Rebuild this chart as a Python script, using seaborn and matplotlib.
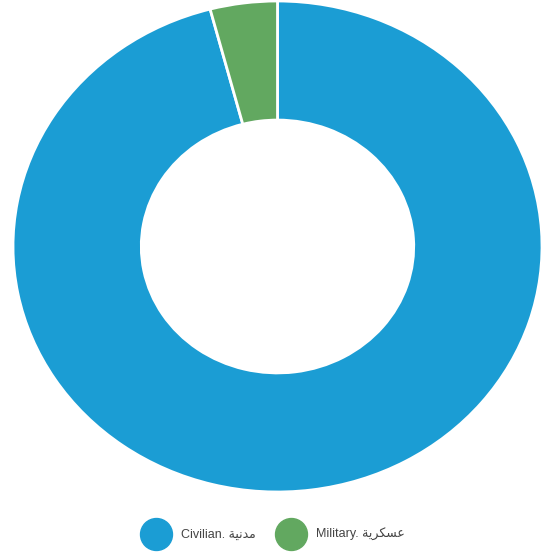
import matplotlib
matplotlib.use("Agg")
import matplotlib.pyplot as plt
from matplotlib.lines import Line2D
import seaborn as sns

# data
labels = ["Civilian. \uFE94\uFEF4\uFEE7\uFEAA\uFEE3",            # مدنية (visual order, shaped)
          "Military. \uFE94\uFEF3\uFEAE\uFEDC\uFEB4\uFECB"]      # عسكرية
values = [95.9, 4.1]
colors = ["#1b9dd4", "#62a860"]

sns.set_theme(style="white")
plt.rcParams["font.family"] = ["Liberation Sans", "DejaVu Sans"]

fig = plt.figure(figsize=(5.45, 5.56), dpi=100)
ax = fig.add_axes([13 / 545, (556 - 492) / 556, 529 / 545, 491 / 556])

ax.pie(values, colors=colors, startangle=90, counterclock=False, radius=1.0,
       wedgeprops=dict(width=0.485, edgecolor="white", linewidth=2))
ax.set_aspect("auto")
ax.set_xlim(-1, 1)
ax.set_ylim(-1, 1)
ax.axis("off")

handles = [Line2D([0], [0], marker="o", linestyle="", markersize=23,
                  markerfacecolor=c, markeredgecolor=c) for c in colors]
fig.legend(handles, labels, loc="center", bbox_to_anchor=(0.506, 0.038),
           ncol=2, frameon=False, fontsize=9, labelcolor="#444444",
           handletextpad=1.3, columnspacing=2.0, handlelength=1.5)

fig.savefig("out.png", dpi=100)
